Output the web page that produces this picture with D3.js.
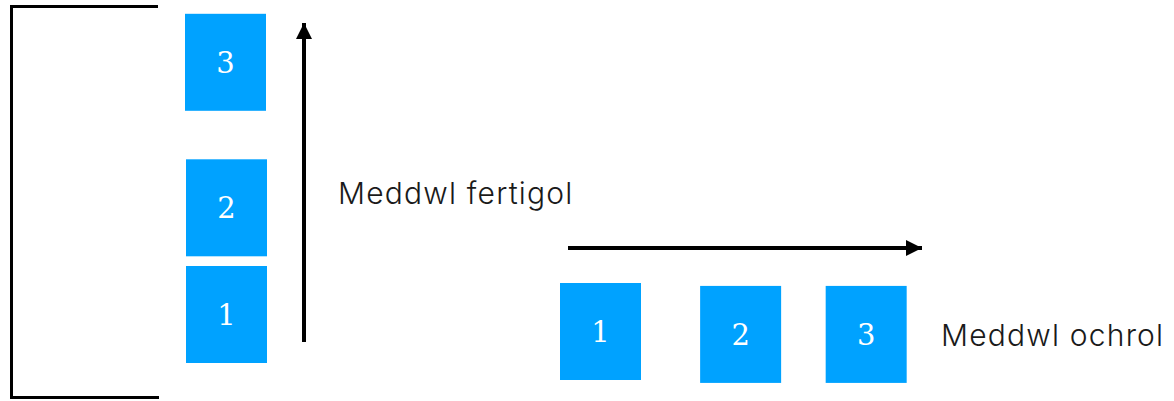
<!DOCTYPE html>
<html>
<head>
<meta charset="utf-8">
<script src="https://cdn.jsdelivr.net/npm/d3@7"></script>
<style>
  body { margin: 0; background: #fff; }
  svg { display: block; }
</style>
</head>
<body>
<svg id="drawing_region"></svg>
<script>
// steps of each kind of thinking, and where each step sits along its own axis (in box units)
const verticalSteps = ["1", "2", "3"];
const verticalLevel = [0, 1.1, 2.6];
const lateralSteps = ["1", "2", "3"];
const lateralLevel = [0, 1.73, 3.28];
const lateralDrop = [0, 0.03, 0.03];
const axisLabels = ["Meddwl fertigol", "Meddwl ochrol"];

const W = 1174, H = 401;
const boxW = 81, boxH = 97;
const blue = "#00a2ff";

const svg = d3.select("#drawing_region")
    .attr("width", W)
    .attr("height", H);

svg.append("defs").append("marker")
    .attr("id", "head")
    .attr("viewBox", "0 0 10 10")
    .attr("refX", 10).attr("refY", 5)
    .attr("markerWidth", 4).attr("markerHeight", 4)
    .attr("markerUnits", "strokeWidth")
    .attr("orient", "auto")
    .append("path")
    .attr("d", "M0,0 L10,5 L0,10 Z")
    .attr("fill", "#000");

// left bracket
svg.append("path")
    .attr("d", "M158,6.5 H11.5 V397.5 H159")
    .attr("fill", "none")
    .attr("stroke", "#000")
    .attr("stroke-width", 3);

// vertical thinking: boxes stacked upward
const yV = d3.scaleLinear().domain([0, 1]).range([266, 266 - boxH]);

const vg = svg.append("g");
vg.selectAll("rect")
    .data(verticalSteps)
    .join("rect")
    .attr("x", (d, i) => i == 2 ? 185 : 186)
    .attr("y", (d, i) => yV(verticalLevel[i]))
    .attr("width", boxW)
    .attr("height", boxH)
    .attr("fill", blue);

vg.selectAll("text")
    .data(verticalSteps)
    .join("text")
    .attr("x", (d, i) => (i == 2 ? 185 : 186) + boxW / 2)
    .attr("y", (d, i) => yV(verticalLevel[i]) + boxH / 2)
    .attr("dy", "0.36em")
    .attr("text-anchor", "middle")
    .attr("fill", "#fff")
    .style("font-family", "'DejaVu Serif', serif")
    .style("font-size", "29px")
    .text(d => d);

svg.append("line")
    .attr("x1", 304).attr("y1", 342)
    .attr("x2", 304).attr("y2", 23)
    .attr("stroke", "#000")
    .attr("stroke-width", 4)
    .attr("marker-end", "url(#head)");

svg.append("text")
    .attr("x", 338)
    .attr("y", 204)
    .attr("fill", "#1a1a1a")
    .style("font-family", "Inter, sans-serif")
    .style("font-weight", 300)
    .style("font-size", "30px")
    .style("letter-spacing", "1.2px")
    .text(axisLabels[0]);

// lateral thinking: boxes side by side
const xL = d3.scaleLinear().domain([0, 1]).range([560, 560 + boxW]);
const yL = d3.scaleLinear().domain([0, 1]).range([283, 283 + boxH]);

const lg = svg.append("g");
lg.selectAll("rect")
    .data(lateralSteps)
    .join("rect")
    .attr("x", (d, i) => xL(lateralLevel[i]))
    .attr("y", (d, i) => yL(lateralDrop[i]))
    .attr("width", boxW)
    .attr("height", boxH)
    .attr("fill", blue);

lg.selectAll("text")
    .data(lateralSteps)
    .join("text")
    .attr("x", (d, i) => xL(lateralLevel[i]) + boxW / 2)
    .attr("y", (d, i) => yL(lateralDrop[i]) + boxH / 2)
    .attr("dy", "0.36em")
    .attr("text-anchor", "middle")
    .attr("fill", "#fff")
    .style("font-family", "'DejaVu Serif', serif")
    .style("font-size", "29px")
    .text(d => d);

svg.append("line")
    .attr("x1", 568).attr("y1", 248)
    .attr("x2", 922).attr("y2", 248)
    .attr("stroke", "#000")
    .attr("stroke-width", 4)
    .attr("marker-end", "url(#head)");

svg.append("text")
    .attr("x", 941)
    .attr("y", 346)
    .attr("fill", "#1a1a1a")
    .style("font-family", "Inter, sans-serif")
    .style("font-weight", 300)
    .style("font-size", "30px")
    .style("letter-spacing", "1.2px")
    .text(axisLabels[1]);
</script>
</body>
</html>
